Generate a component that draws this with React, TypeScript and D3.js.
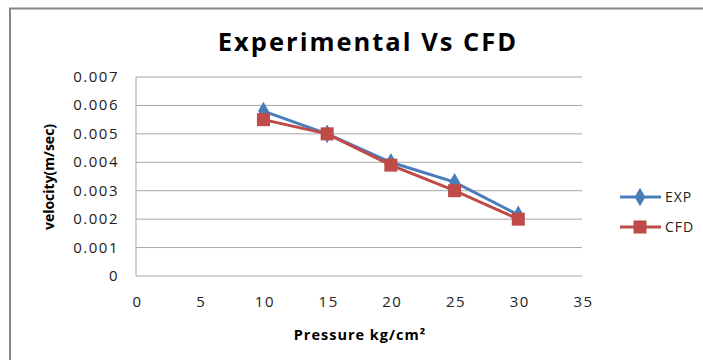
import React, { useEffect, useRef } from 'react';
import * as d3 from 'd3';

const pressure = [10, 15, 20, 25, 30];
const expVelocity = [0.0058, 0.005, 0.004, 0.0033, 0.00215];
const cfdVelocity = [0.0055, 0.005, 0.0039, 0.003, 0.002];
const xTicks = [0, 5, 10, 15, 20, 25, 30, 35];
const yTicks = [0, 0.001, 0.002, 0.003, 0.004, 0.005, 0.006, 0.007];
const seriesNames = ['EXP', 'CFD'];
const seriesColors = ['#4a7ebb', '#be4b48'];

export default function App() {
  const ref = useRef<SVGSVGElement>(null);

  useEffect(() => {
    const svg = d3.select(ref.current);
    svg.selectAll('*').remove();

    const font = '"Open Sans", sans-serif';
    const margin = { top: 77, left: 136, right: 121, bottom: 84 };
    const W = 703, H = 360;

    // frame (runs off the right and bottom of the picture)
    svg.append('rect')
      .attr('x', 10).attr('y', 8.5)
      .attr('width', 700).attr('height', 360)
      .attr('fill', '#fff')
      .attr('stroke', '#868686').attr('stroke-width', 2);

    const x = d3.scaleLinear().domain([0, 35]).range([margin.left, W - margin.right]);
    const y = d3.scaleLinear().domain([0, 0.007]).range([H - margin.bottom, margin.top]);

    // gridlines
    svg.append('g').selectAll('line')
      .data(yTicks.slice(1))
      .join('line')
      .attr('x1', x(0)).attr('x2', x(35))
      .attr('y1', d => y(d)).attr('y2', d => y(d))
      .attr('stroke', '#a6a6a6').attr('stroke-width', 1);

    // axes lines
    svg.append('line')
      .attr('x1', x(0)).attr('x2', x(0)).attr('y1', y(0)).attr('y2', y(0.007))
      .attr('stroke', '#a6a6a6');
    svg.append('line')
      .attr('x1', x(0)).attr('x2', x(35)).attr('y1', y(0)).attr('y2', y(0))
      .attr('stroke', '#a6a6a6');

    // tick labels
    svg.append('g').selectAll('text')
      .data(yTicks)
      .join('text')
      .attr('x', x(0) - 17)
      .attr('y', d => y(d) + 5)
      .attr('text-anchor', 'end')
      .attr('font-family', font).attr('font-size', 15).attr('letter-spacing', 1.5)
      .attr('fill', '#222')
      .text(d => d === 0 ? '0' : d3.format('.3f')(d));

    svg.append('g').selectAll('text')
      .data(xTicks)
      .join('text')
      .attr('x', d => x(d) + 1.5)
      .attr('y', y(0) + 31)
      .attr('text-anchor', 'middle')
      .attr('font-family', font).attr('font-size', 15).attr('letter-spacing', 1.5)
      .attr('fill', '#222')
      .text(d => d);

    // titles
    svg.append('text')
      .attr('x', 368).attr('y', 51)
      .attr('text-anchor', 'middle')
      .attr('font-family', font).attr('font-size', 25.5).attr('font-weight', 'bold')
      .attr('letter-spacing', 2)
      .text('Experimental Vs CFD');

    svg.append('text')
      .attr('x', 360).attr('y', 340)
      .attr('text-anchor', 'middle')
      .attr('font-family', font).attr('font-size', 14.5).attr('font-weight', 'bold')
      .attr('letter-spacing', 1)
      .text('Pressure kg/cm²');

    svg.append('text')
      .attr('transform', 'translate(54,177) rotate(-90)')
      .attr('text-anchor', 'middle')
      .attr('font-family', font).attr('font-size', 14).attr('font-weight', 'bold')
      .text('velocity(m/sec)');

    const line = d3.line<number>()
      .x((d, i) => x(pressure[i]))
      .y(d => y(d));

    const all = [expVelocity, cfdVelocity];
    const symbols = [d3.symbolDiamond, d3.symbolSquare];
    const sizes = [100, 170];

    all.forEach((vals, k) => {
      svg.append('path')
        .attr('d', line(vals))
        .attr('fill', 'none')
        .attr('stroke', seriesColors[k]).attr('stroke-width', 3);
      svg.append('g').selectAll('path')
        .data(vals)
        .join('path')
        .attr('transform', (d, i) => `translate(${x(pressure[i])},${y(d)})`)
        .attr('d', d3.symbol().type(symbols[k]).size(sizes[k])())
        .attr('fill', seriesColors[k]);
    });

    // legend
    const le = svg.append('g').attr('transform', 'translate(620,197)');
    seriesNames.forEach((name, k) => {
      const g = le.append('g').attr('transform', `translate(0,${k * 30})`);
      g.append('line')
        .attr('x1', 0).attr('x2', 41).attr('y1', 0).attr('y2', 0)
        .attr('stroke', seriesColors[k]).attr('stroke-width', 3);
      g.append('path')
        .attr('transform', 'translate(20,0)')
        .attr('d', d3.symbol().type(symbols[k]).size(sizes[k])())
        .attr('fill', seriesColors[k]);
      g.append('text')
        .attr('x', 45).attr('y', 5)
        .attr('font-family', font).attr('font-size', 14).attr('letter-spacing', 1)
        .attr('fill', '#222')
        .text(name);
    });
  }, []);

  return (
    <svg ref={ref} width={703} height={360}
      style={{ position: 'absolute', left: 0, top: 0, background: '#fff' }} />
  );
}
